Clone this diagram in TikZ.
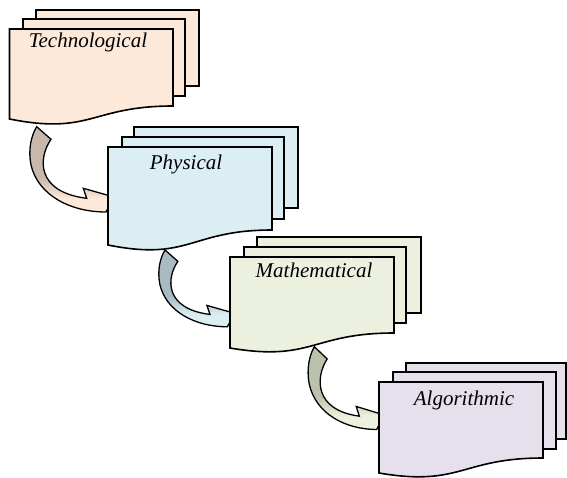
\documentclass[tikz,border=0pt]{standalone}
\usepackage{fontspec}
\setmainfont{Liberation Serif}
\definecolor{peach}{HTML}{FDE9D9}
\definecolor{lblue}{HTML}{DAEEF3}
\definecolor{lgreen}{HTML}{EBF1DE}
\definecolor{lpurple}{HTML}{E5E0EC}
\definecolor{darkA}{HTML}{C8B8AC}
\definecolor{darkB}{HTML}{A9BAC1}
\definecolor{darkC}{HTML}{BAC2AC}
\pgfdeclareverticalshading{arrowA}{100bp}{color(0bp)=(peach); color(33bp)=(peach); color(45bp)=(darkA); color(100bp)=(darkA)}
\pgfdeclareverticalshading{arrowB}{100bp}{color(0bp)=(lblue); color(33bp)=(lblue); color(45bp)=(darkB); color(100bp)=(darkB)}
\pgfdeclareverticalshading{arrowC}{100bp}{color(0bp)=(lgreen); color(33bp)=(lgreen); color(45bp)=(darkC); color(100bp)=(darkC)}
\newcommand\curvedarrowpath{(0,0) -- (14.3,12.6) .. controls (1.3,31.3) and (-0.7,65.3) .. (50,71.6) -- (46.6,61.6) -- (77.3,70.3) -- (69.3,85.3) .. controls (33.3,85.3) and (1.3,68.3) .. (-5.7,38.3) .. controls (-8.7,23.3) and (-5.7,9.3) .. cycle}
\begin{document}
\begin{tikzpicture}[x=1pt,y=-1pt,
  sheet/.style={draw=black, line width=1.6pt, line join=miter},
  curvarrow/.style={draw=black, line width=1.3pt, line join=miter},
  label/.style={font=\fontsize{21}{24}\selectfont\itshape, anchor=base, inner sep=0pt, text=black}]
\useasboundingbox (0,0) rectangle (567,477);

% curved arrows (drawn first, heads hidden behind the target sheets)
\begin{scope}[shift={(36.7,126.7)}]
  \path[curvarrow, shading=arrowA] \curvedarrowpath;
\end{scope}
\begin{scope}[shift={(165,250)}, xscale=0.9, yscale=0.9]
  \path[curvarrow, shading=arrowB] \curvedarrowpath;
\end{scope}
\begin{scope}[shift={(314.3,346.7)}, xscale=0.9, yscale=0.97]
  \path[curvarrow, shading=arrowC] \curvedarrowpath;
\end{scope}

% Technological
\path[sheet, fill=peach] (36,10) rectangle (199,86);
\path[sheet, fill=peach] (23,19) rectangle (185,96);
\path[sheet, fill=peach] (9.5,29) -- (173,29) -- (173,106) .. controls (91.25,106) and (91.25,135.3) .. (9.5,119) -- cycle;
\node[label] (tech) at (88,47) {Technological};

% Physical
\path[sheet, fill=lblue] (134,127) rectangle (298,208);
\path[sheet, fill=lblue] (122,137) rectangle (284,219);
\path[sheet, fill=lblue] (108,147) -- (272,147) -- (272,230) .. controls (190,230) and (190,261.5) .. (108,245) -- cycle;
\node[label] (phys) at (186,169) {Physical};

% Mathematical
\path[sheet, fill=lgreen] (257,237) rectangle (421,313);
\path[sheet, fill=lgreen] (244,247) rectangle (406,323);
\path[sheet, fill=lgreen] (230,257) -- (394,257) -- (394,333) .. controls (312,333) and (312,362) .. (230,348) -- cycle;
\node[label] (math) at (314,277) {Mathematical};

% Algorithmic
\path[sheet, fill=lpurple] (406,363) rectangle (566,439);
\path[sheet, fill=lpurple] (393,372) rectangle (556,449);
\path[sheet, fill=lpurple] (379,382) -- (543,382) -- (543,458) .. controls (461,458) and (461,487) .. (379,473) -- cycle;
\node[label] (algo) at (464,405) {Algorithmic};
\end{tikzpicture}
\end{document}
